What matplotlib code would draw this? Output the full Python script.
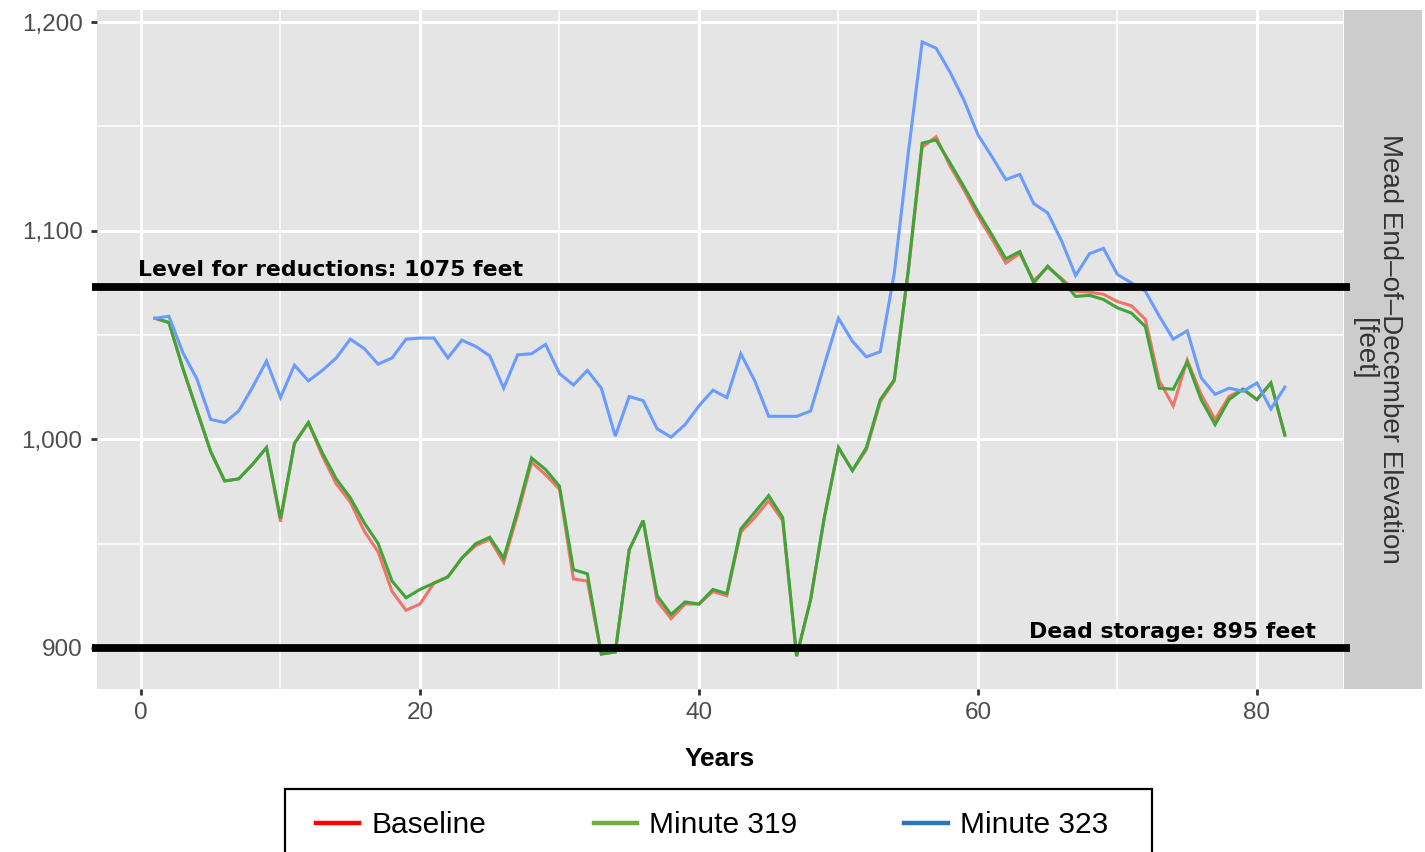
import matplotlib
matplotlib.use("Agg")
import matplotlib.pyplot as plt
import matplotlib.transforms as mtransforms
from matplotlib.lines import Line2D
from matplotlib.patches import Rectangle
from matplotlib.ticker import FuncFormatter, MultipleLocator

# data (elevation in feet, years 1..82)
years = list(range(1, 83))

baseline = [
    1058, 1056, 1034, 1014, 994, 980, 981, 988, 996, 960.5,
    998, 1008, 992, 978.5, 970, 956, 946, 927, 918, 921,
    931, 934, 943, 949, 952, 941, 964, 989, 983, 976,
    933, 932, 897, 898, 947, 961, 922.5, 914, 921, 921,
    927, 925, 955.5, 962.5, 970.5, 961, 896, 923, 963, 996,
    985, 995, 1018, 1028, 1080, 1140, 1145, 1131, 1119.5, 1107,
    1096, 1084.5, 1089, 1076, 1082.5, 1077, 1071, 1070.5, 1069.5, 1066,
    1064, 1057.5, 1028, 1016, 1038, 1021.5, 1009.5, 1020.5, 1024, 1019,
    1027, 1002,
]

minute_319 = [
    1058, 1056, 1034, 1014, 994, 980, 981, 988, 996, 962,
    998, 1008, 993.5, 981, 972, 960, 950, 932, 924, 928,
    931, 934, 943, 950, 953, 943, 966, 991, 985.5, 977.5,
    937.5, 935.5, 897, 898, 947, 961, 925, 916, 922, 921,
    928, 926, 957, 965, 973, 962.5, 896, 923, 963, 996,
    985, 996, 1019, 1028.5, 1081, 1142, 1143.5, 1132.5, 1121, 1109,
    1098, 1086.5, 1090, 1075, 1083, 1076.5, 1068.5, 1069, 1067, 1063,
    1060.5, 1054, 1024.5, 1024, 1037, 1019, 1007, 1019, 1024, 1019,
    1027, 1002,
]

minute_323 = [
    1058, 1059, 1041.5, 1029, 1009.5, 1008, 1013.5, 1025, 1037.5, 1020,
    1035.5, 1028, 1033, 1039, 1048, 1043.5, 1036, 1039, 1048, 1048.5,
    1048.5, 1039, 1047.5, 1044.5, 1040, 1024.5, 1040.5, 1041, 1045.5, 1031.5,
    1026, 1033, 1024.5, 1001.5, 1020.5, 1018.5, 1005, 1001, 1007, 1016,
    1023.5, 1020, 1041, 1028, 1011, 1011, 1011, 1013.5, 1036, 1058,
    1047, 1039.5, 1042, 1079.5, 1137, 1190.5, 1187.5, 1176, 1162.5, 1146,
    1135.5, 1124.5, 1127, 1113, 1108.5, 1095, 1078.5, 1089, 1091.5, 1079,
    1075, 1071, 1059, 1048, 1052, 1029.5, 1021.5, 1024.5, 1023, 1027,
    1014.5, 1025,
]

series_names = ["Baseline", "Minute 319", "Minute 323"]
line_colors = ["#F07468", "#3DA636", "#6A9BFF"]
legend_colors = ["#FF0000", "#70AD47", "#2E75B6"]

# reference levels as drawn in the picture
level_labels = ["Level for reductions: 1075 feet", "Dead storage: 895 feet"]
level_values = [1073, 900]

W, H = 1425, 852
fig = plt.figure(figsize=(W / 100, H / 100), dpi=100)

def fx(px):
    return px / W

def fy(py):
    return 1 - py / H

# facet strip on the right (drawn below the main panel so the black lines overhang it)
sax = fig.add_axes([fx(1344), fy(688.5), fx(1422) - fx(1344), fy(10) - fy(688.5)])
sax.set_facecolor("#CCCCCC")
sax.set_xticks([])
sax.set_yticks([])
sax.set_zorder(1)
for s in sax.spines.values():
    s.set_visible(False)
sax.text(0.42, 0.5, "Mead End\u2013of\u2013December Elevation\n[feet]", rotation=-90,
         ha="center", va="center", fontsize=20, color="#333333",
         family="Liberation Sans", linespacing=1.0, transform=sax.transAxes)

# main panel
ax = fig.add_axes([fx(96.5), fy(688.5), fx(1343) - fx(96.5), fy(10) - fy(688.5)])
ax.set_zorder(2)
ax.set_facecolor("#E5E5E5")
for s in ax.spines.values():
    s.set_visible(False)

ax.set_xlim(-3.19, 86.17)
ax.set_ylim(880.5, 1205.8)
ax.xaxis.set_major_locator(MultipleLocator(20))
ax.xaxis.set_minor_locator(MultipleLocator(10))
ax.yaxis.set_major_locator(MultipleLocator(100))
ax.yaxis.set_minor_locator(MultipleLocator(50))
ax.yaxis.set_major_formatter(FuncFormatter(lambda v, p: f"{int(v):,}"))
ax.grid(which="major", color="white", linewidth=2.2)
ax.grid(which="minor", color="white", linewidth=1.1)
ax.set_axisbelow(True)
ax.tick_params(which="major", length=4, width=2, color="#333333",
               labelsize=17.5, labelcolor="#4D4D4D", pad=6)
ax.tick_params(which="minor", length=0)
for lab in ax.get_xticklabels() + ax.get_yticklabels():
    lab.set_fontfamily("Liberation Sans")

for vals, c in zip([baseline, minute_319, minute_323], line_colors):
    ax.plot(years, vals, color=c, linewidth=2.2, solid_joinstyle="miter")

ax.set_xlabel("Years", fontsize=19, fontweight="bold", family="Liberation Sans",
              labelpad=16)

# thick black reference lines, slightly overhanging the panel
trans = mtransforms.blended_transform_factory(ax.transAxes, ax.transData)
for lv in level_values:
    ax.plot([-0.0036, 1.0056], [lv, lv], color="black", linewidth=5.6,
            transform=trans, clip_on=False, solid_capstyle="butt", zorder=5)

fig.text(fx(138), fy(270), level_labels[0], fontsize=15.8, fontweight="bold",
         family="DejaVu Sans", va="center", ha="left")
fig.text(fx(1316), fy(632), level_labels[1], fontsize=15.8, fontweight="bold",
         family="DejaVu Sans", va="center", ha="right")

# legend box at the bottom, cut by the figure edge
fig.add_artist(Rectangle((fx(285), fy(870)), fx(1152) - fx(285), fy(789) - fy(870),
                         transform=fig.transFigure, fill=False,
                         edgecolor="black", linewidth=1.6))
handles = [Line2D([], [], color=c, linewidth=3.2) for c in legend_colors]
fig.legend(handles, series_names, loc="center left",
           bbox_to_anchor=(fx(316), fy(825)), ncol=3, frameon=False,
           borderpad=0, borderaxespad=0, handlelength=1.45, handletextpad=0.4,
           columnspacing=3.6,
           prop={"family": "Liberation Sans", "size": 21.5})

fig.savefig("out.png", dpi=100)
